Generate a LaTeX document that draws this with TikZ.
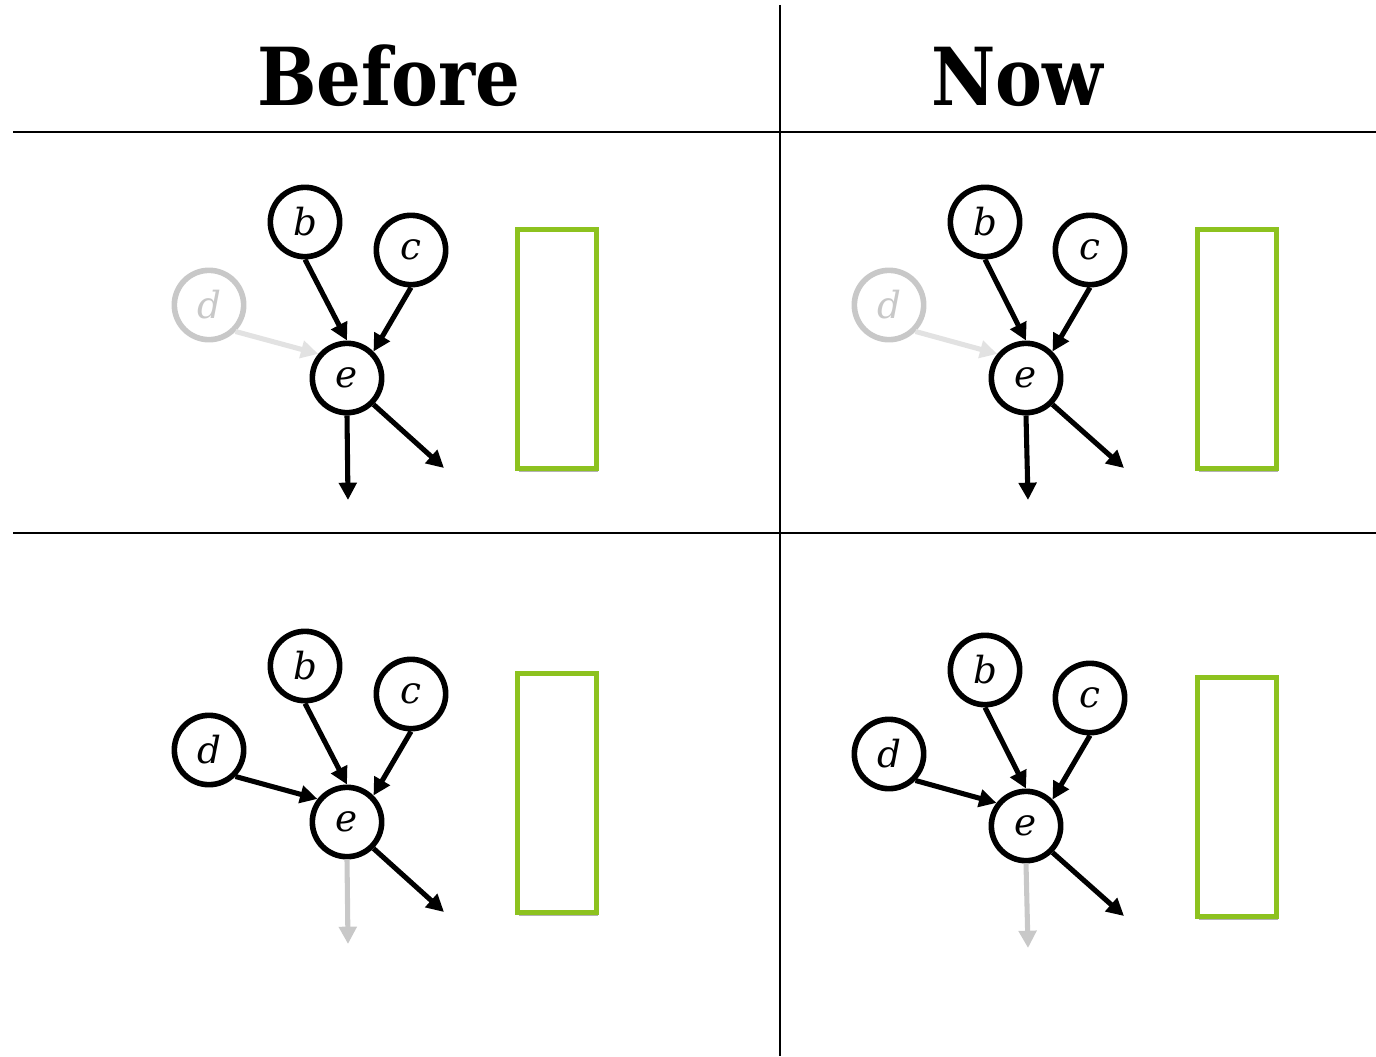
\documentclass[tikz,border=0pt]{standalone}
\usepackage{fontspec}
\newfontfamily\titlefont[FakeStretch=0.88]{DejaVu Serif}
\newfontfamily\varfont{DejaVu Serif}
\usetikzlibrary{arrows.meta,shadows}
\definecolor{boxgreen}{HTML}{8DC21F}
\definecolor{fadenode}{HTML}{C8C8C8}
\definecolor{fadeedge}{HTML}{E2E2E2}
\tikzset{
  varnode/.style={circle, draw=black, line width=4.2pt, minimum size=52pt, inner sep=0pt, fill=white,
    font=\varfont\itshape\fontsize{28}{30}\selectfont},
  enode/.style={varnode, drop shadow={shadow xshift=-1.5pt, shadow yshift=-0.5pt, opacity=0.3, fill=black}},
  fadednode/.style={varnode, draw=fadenode, text=fadenode},
  edge/.style={line width=3.8pt, -{Triangle[length=13pt,width=13pt]}},
  fadededge/.style={edge, draw=fadeedge, fill=fadeedge},
  grayedge/.style={edge, draw=fadenode, fill=fadenode},
  greenbox/.style={draw=boxgreen, line width=4pt, fill=white, minimum width=59pt, minimum height=179pt, inner sep=0pt,
    drop shadow={shadow xshift=1pt, shadow yshift=-2.5pt, opacity=0.3, fill=black}},
  rule/.style={line width=1.8pt},
  title/.style={font=\titlefont\bfseries\fontsize{60}{66}\selectfont, anchor=base}
}
\begin{document}
\begin{tikzpicture}[x=0.75pt,y=-0.75pt]
\useasboundingbox (0,0) rectangle (1376,1056);
% grid
\coordinate (vt) at (780,5); \coordinate (vb) at (780,1056);
\coordinate (h1l) at (13,132); \coordinate (h1r) at (1376,132);
\coordinate (h2l) at (13,533); \coordinate (h2r) at (1376,533);
\draw[rule] (vt) -- (vb);
\draw[rule] (h1l) -- (h1r);
\draw[rule] (h2l) -- (h2r);
% titles
\node[title] (tb) at (389,105) {Before};
\node[title] (tn) at (1017,105) {Now};

% ---------- top left ----------
\node[fadednode] (d1) at (209,305) {d};
\node[varnode] (b1) at (305,222) {b};
\node[varnode] (c1) at (411,250) {c};
\node[enode] (e1) at (347,378) {e};
\coordinate (o1a) at (348,500); \coordinate (o1b) at (444,468);
\draw[edge] (b1.south) -- (e1.north);
\draw[edge] (c1.south) -- (e1.north east);
\draw[fadededge] (d1.south east) -- (e1.140);
\draw[edge] (e1.south) -- (o1a);
\draw[edge] (e1.south east) -- (o1b);
\node[greenbox] (r1) at (557,349) {};

% ---------- bottom left ----------
\node[varnode] (d2) at (209,750) {d};
\node[varnode] (b2) at (305,666) {b};
\node[varnode] (c2) at (411,694) {c};
\node[enode] (e2) at (347,822) {e};
\coordinate (o2a) at (348,944); \coordinate (o2b) at (444,912);
\draw[edge] (b2.south) -- (e2.north);
\draw[edge] (c2.south) -- (e2.north east);
\draw[edge] (d2.south east) -- (e2.142);
\draw[grayedge] (e2.south) -- (o2a);
\draw[edge] (e2.south east) -- (o2b);
\node[greenbox] (r2) at (557,793) {};

% ---------- top right ----------
\node[fadednode] (d3) at (889,305) {d};
\node[varnode] (b3) at (985,222) {b};
\node[varnode] (c3) at (1090,250) {c};
\node[varnode] (e3) at (1026,378) {e};
\coordinate (o3a) at (1028,500); \coordinate (o3b) at (1124,468);
\draw[edge] (b3.south) -- (e3.north);
\draw[edge] (c3.south) -- (e3.north east);
\draw[fadededge] (d3.south east) -- (e3.140);
\draw[edge] (e3.south) -- (o3a);
\draw[edge] (e3.south east) -- (o3b);
\node[greenbox] (r3) at (1237,349) {};

% ---------- bottom right ----------
\node[varnode] (d4) at (889,754) {d};
\node[varnode] (b4) at (985,670) {b};
\node[varnode] (c4) at (1090,698) {c};
\node[varnode] (e4) at (1026,826) {e};
\coordinate (o4a) at (1028,948); \coordinate (o4b) at (1124,916);
\draw[edge] (b4.south) -- (e4.north);
\draw[edge] (c4.south) -- (e4.north east);
\draw[edge] (d4.south east) -- (e4.142);
\draw[grayedge] (e4.south) -- (o4a);
\draw[edge] (e4.south east) -- (o4b);
\node[greenbox] (r4) at (1237,797) {};
\end{tikzpicture}
\end{document}
